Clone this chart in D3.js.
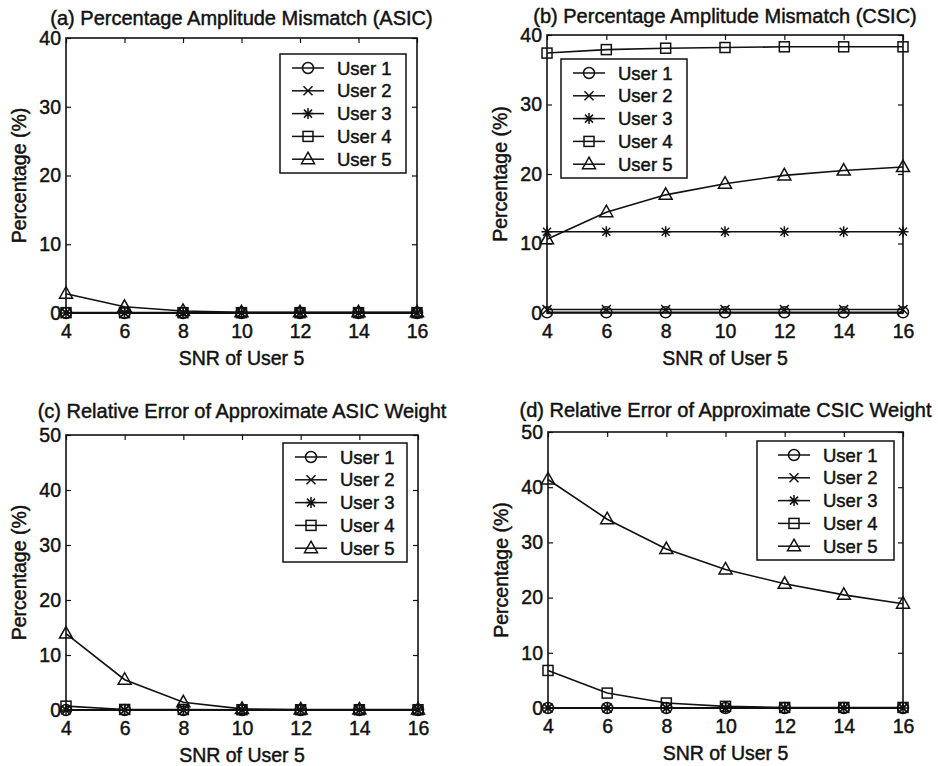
<!DOCTYPE html>
<html>
<head>
<meta charset="utf-8">
<script src="https://cdn.jsdelivr.net/npm/d3@7"></script>
<style>
    body { margin: 0; background: #fff; }
    text { font-family: "Liberation Sans", Arial, Helvetica, sans-serif; fill: #111; stroke: #111; stroke-width: 0.45px; }
</style>
</head>
<body>
<svg id="chart" width="938" height="766"></svg>
<script>
// Data
const snr = [4, 6, 8, 10, 12, 14, 16];
const userNames = ['User 1', 'User 2', 'User 3', 'User 4', 'User 5'];
const markerTypes = ['circle', 'cross', 'star', 'square', 'triangle'];
const yTicks40 = [0, 10, 20, 30, 40];
const yTicks50 = [0, 10, 20, 30, 40, 50];

// one row per user, one value per SNR
const asicMismatch = [
    [0, 0, 0, 0, 0, 0, 0],
    [0, 0, 0, 0, 0, 0, 0],
    [0, 0, 0, 0, 0, 0, 0],
    [0.05, 0.05, 0.05, 0.05, 0.05, 0.05, 0.05],
    [2.8, 0.9, 0.3, 0.1, 0.1, 0.1, 0.1]
];
const csicMismatch = [
    [0.1, 0.1, 0.1, 0.1, 0.1, 0.1, 0.1],
    [0.5, 0.5, 0.5, 0.5, 0.5, 0.5, 0.5],
    [11.7, 11.7, 11.7, 11.7, 11.7, 11.7, 11.7],
    [37.4, 37.9, 38.1, 38.2, 38.3, 38.3, 38.3],
    [10.6, 14.5, 17.0, 18.6, 19.8, 20.5, 21.0]
];
const asicWeightErr = [
    [0, 0, 0, 0, 0, 0, 0],
    [0, 0, 0, 0, 0, 0, 0],
    [0, 0, 0, 0, 0, 0, 0],
    [0.7, 0.1, 0.1, 0.05, 0.05, 0.05, 0.05],
    [13.9, 5.5, 1.4, 0.2, 0.1, 0.1, 0.1]
];
const csicWeightErr = [
    [0, 0, 0, 0, 0, 0, 0],
    [0, 0, 0, 0, 0, 0, 0],
    [0, 0, 0, 0, 0, 0, 0],
    [6.8, 2.7, 0.9, 0.3, 0.1, 0.1, 0.1],
    [41.4, 34.2, 28.8, 25.1, 22.5, 20.5, 18.9]
];

// Layout of the four panels
const panels = [
    {
        title: '(a) Percentage Amplitude Mismatch (ASIC)', series: asicMismatch, yTicks: yTicks40,
        left: 66, top: 38, width: 351, height: 275, titleY: 25,
        legend: { x: 280, y: 54, w: 126, pad: 12 }
    },
    {
        title: '(b) Percentage Amplitude Mismatch (CSIC)', series: csicMismatch, yTicks: yTicks40,
        left: 547, top: 35, width: 356, height: 278, titleY: 23,
        legend: { x: 561, y: 59, w: 126, pad: 12 }
    },
    {
        title: '(c) Relative Error of Approximate ASIC Weight', series: asicWeightErr, yTicks: yTicks50,
        left: 66, top: 435, width: 352, height: 275, titleY: 418,
        legend: { x: 283, y: 443, w: 124, pad: 12 }
    },
    {
        title: '(d) Relative Error of Approximate CSIC Weight', series: csicWeightErr, yTicks: yTicks50,
        left: 548, top: 432, width: 355, height: 276, titleY: 417,
        legend: { x: 757, y: 441, w: 137, pad: 21 }
    }
];

const svg = d3.select('#chart');

function drawMarker(g, type) {
    const m = g.append('g')
        .attr('fill', 'none')
        .attr('stroke', '#111')
        .attr('stroke-width', 1.5);
    if (type === 'circle') {
        m.append('circle').attr('r', 5.5);
    } else if (type === 'cross') {
        m.append('path').attr('d', 'M-4.5,-4.5L4.5,4.5M-4.5,4.5L4.5,-4.5');
    } else if (type === 'star') {
        m.append('path').attr('d', 'M-5.5,0L5.5,0M0,-5.5L0,5.5M-4,-4L4,4M-4,4L4,-4');
    } else if (type === 'square') {
        m.append('rect').attr('x', -5).attr('y', -5).attr('width', 10).attr('height', 10);
    } else if (type === 'triangle') {
        m.append('path').attr('d', 'M0,-7L6.5,4.5L-6.5,4.5Z');
    }
}

panels.forEach(p => {
    const xScale = d3.scaleLinear()
        .domain([4, 16])
        .range([0, p.width]);

    const yScale = d3.scaleLinear()
        .domain([0, d3.max(p.yTicks)])
        .range([p.height, 0]);

    const ctr = svg.append('g')
        .attr('transform', `translate(${p.left},${p.top})`);

    // Axes, ticks pointing inward on all four sides
    const xAxisGroup = ctr.append('g')
        .attr('transform', `translate(0,${p.height})`)
        .call(d3.axisBottom(xScale).tickValues(snr).tickSize(-5).tickSizeOuter(0).tickPadding(11));

    ctr.append('g')
        .call(d3.axisTop(xScale).tickValues(snr).tickSize(-5).tickSizeOuter(0).tickFormat(''));

    const yAxisGroup = ctr.append('g')
        .call(d3.axisLeft(yScale).tickValues(p.yTicks).tickSize(-5).tickSizeOuter(0).tickPadding(5));

    ctr.append('g')
        .attr('transform', `translate(${p.width},0)`)
        .call(d3.axisRight(yScale).tickValues(p.yTicks).tickSize(-5).tickSizeOuter(0).tickFormat(''));

    ctr.selectAll('.domain').remove();
    ctr.selectAll('.tick line').attr('stroke', '#111').attr('stroke-width', 1.2);
    ctr.selectAll('.tick text')
        .attr('fill', '#111')
        .style('font-size', '19.5px');

    // Box
    ctr.append('rect')
        .attr('width', p.width)
        .attr('height', p.height)
        .attr('fill', 'none')
        .attr('stroke', '#111')
        .attr('stroke-width', 1.6);

    // Lines and markers
    const line = d3.line()
        .x((d, i) => xScale(snr[i]))
        .y(d => yScale(d));

    p.series.forEach((values, u) => {
        ctr.append('path')
            .datum(values)
            .attr('d', line)
            .attr('fill', 'none')
            .attr('stroke', '#111')
            .attr('stroke-width', 1.6);

        values.forEach((v, i) => {
            const g = ctr.append('g')
                .attr('transform', `translate(${xScale(snr[i])},${yScale(v)})`);
            drawMarker(g, markerTypes[u]);
        });
    });

    // Titles and axis labels
    svg.append('text')
        .attr('x', p.left + p.width / 2)
        .attr('y', p.titleY)
        .attr('text-anchor', 'middle')
        .style('font-size', '20px')
        .text(p.title);

    xAxisGroup.append('text')
        .attr('x', p.width / 2)
        .attr('y', 52)
        .attr('fill', '#111')
        .attr('text-anchor', 'middle')
        .style('font-size', '19.5px')
        .text('SNR of User 5');

    yAxisGroup.append('text')
        .attr('x', -p.height / 2)
        .attr('y', -40)
        .attr('fill', '#111')
        .attr('text-anchor', 'middle')
        .attr('transform', 'rotate(-90)')
        .style('font-size', '19.5px')
        .text('Percentage (%)');

    // Legend
    const lg = svg.append('g')
        .attr('transform', `translate(${p.legend.x},${p.legend.y})`);

    lg.append('rect')
        .attr('width', p.legend.w)
        .attr('height', 119)
        .attr('fill', '#fff')
        .attr('stroke', '#111')
        .attr('stroke-width', 1.5);

    userNames.forEach((name, u) => {
        const rowY = 14 + u * 22.8;
        lg.append('line')
            .attr('x1', p.legend.pad)
            .attr('x2', p.legend.pad + 32)
            .attr('y1', rowY)
            .attr('y2', rowY)
            .attr('stroke', '#111')
            .attr('stroke-width', 1.5);
        const g = lg.append('g')
            .attr('transform', `translate(${p.legend.pad + 16},${rowY})`);
        drawMarker(g, markerTypes[u]);
        lg.append('text')
            .attr('x', p.legend.pad + 45)
            .attr('y', rowY + 6.5)
            .style('font-size', '18.5px')
            .text(name);
    });
});
</script>
</body>
</html>
